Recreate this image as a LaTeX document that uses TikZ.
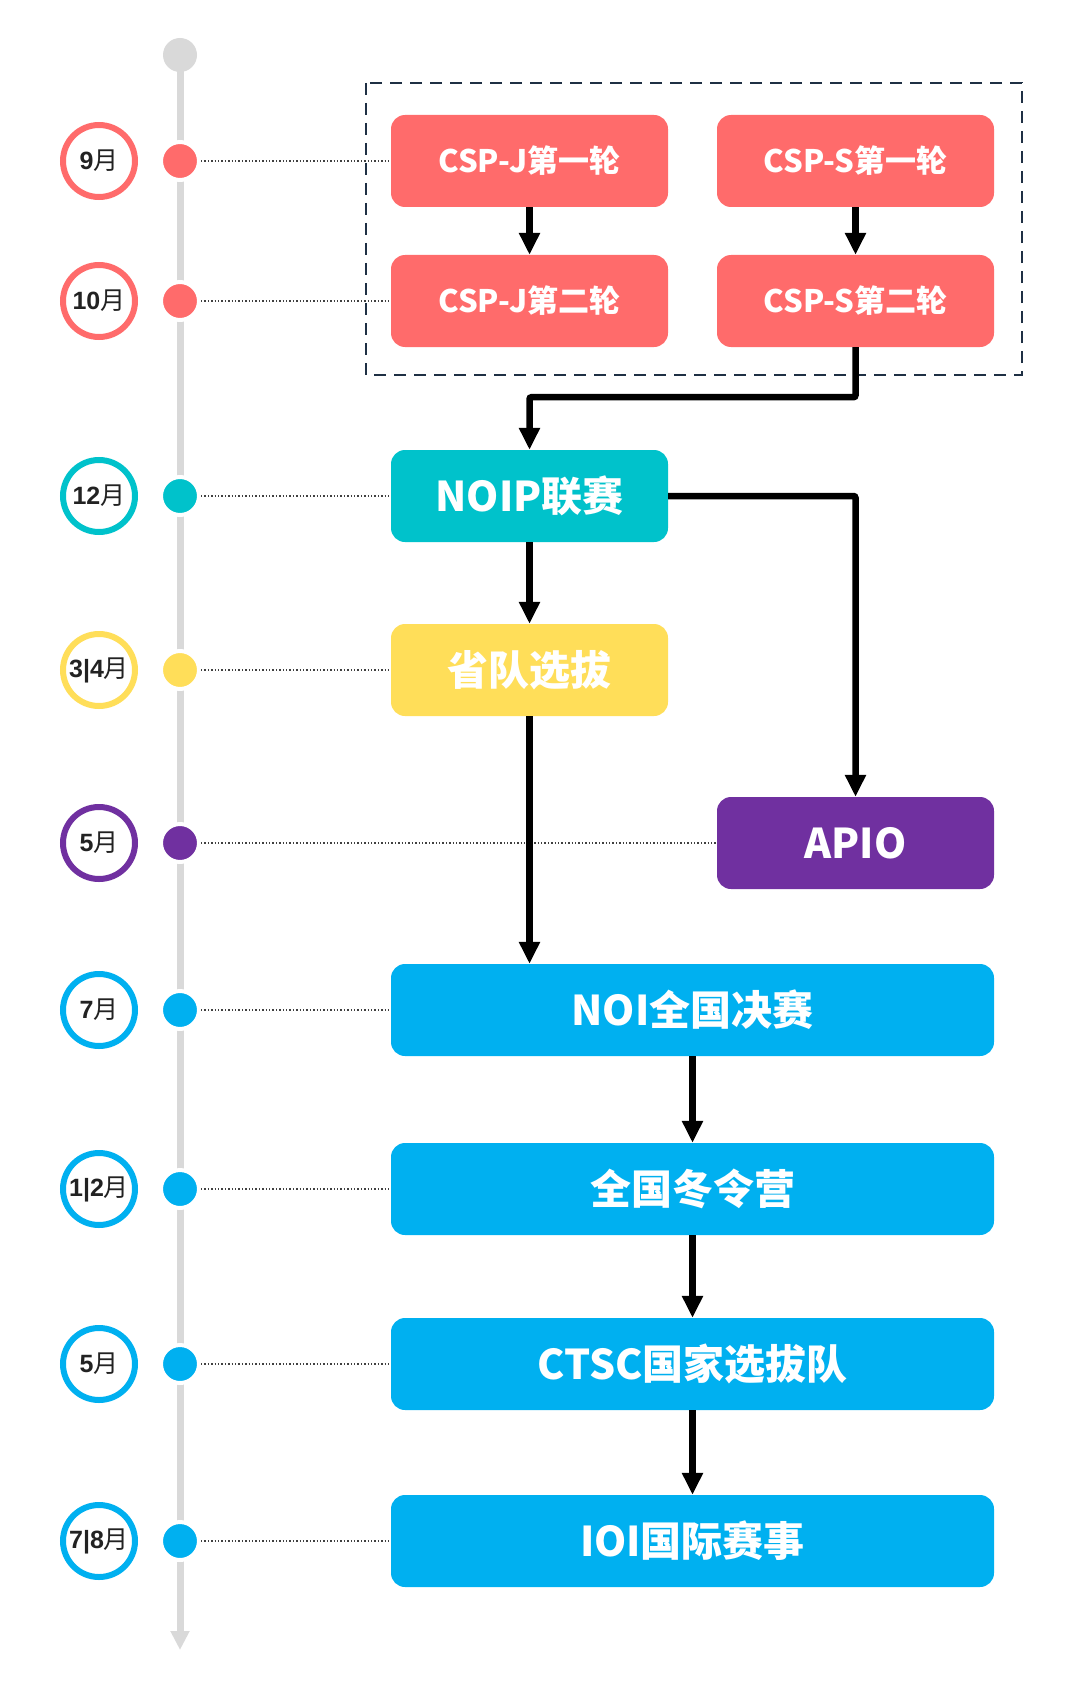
\documentclass[tikz,border=0pt]{standalone}
\usepackage{fontspec}
\setmainfont{Noto Sans CJK SC}
\newfontfamily\cjk{Noto Sans CJK SC}
\newfontfamily\digitfont{Liberation Sans}
\usetikzlibrary{arrows.meta}
\definecolor{cspred}{HTML}{FF6B6B}
\definecolor{noipteal}{HTML}{00C2CB}
\definecolor{provyellow}{HTML}{FFDE59}
\definecolor{apiopurple}{HTML}{7030A0}
\definecolor{noiblue}{HTML}{00B0F0}
\definecolor{linegray}{HTML}{D9D9D9}
\definecolor{framenavy}{HTML}{1F3044}
\definecolor{monthtext}{HTML}{222222}
\newcommand{\monthlabel}[1]{{\fontsize{25}{29}\selectfont\digitfont\bfseries #1\cjk\mdseries 月}}

\begin{document}
\begin{tikzpicture}[x=1pt,y=-1pt,
  stage/.style={rounded corners=14pt,minimum height=92pt,inner sep=0pt,text=white,font=\bfseries\fontsize{41}{48}\selectfont},
  smallstage/.style={stage,minimum width=277pt,font=\bfseries\fontsize{31}{38}\selectfont},
  halfstage/.style={stage,minimum width=277pt},
  widestage/.style={stage,minimum width=603pt},
  ring/.style={circle,draw=#1,line width=6pt,fill=white,minimum size=72pt,inner sep=0pt,text=monthtext},
  tick/.style={circle,fill=#1,draw=white,line width=4pt,minimum size=38pt,inner sep=0pt},
  guide/.style={dotted,line width=1.4pt,draw=black!75},
  flow/.style={line width=6.5pt,-{Triangle[width=20pt,length=22pt]},rounded corners=2pt}]
\useasboundingbox (0,0) rectangle (1080,1688);
\node[circle,fill=linegray,minimum size=34pt,inner sep=0pt] (start) at (180,55) {};
\coordinate (finish) at (180,1650);
\draw[line width=7pt,linegray,-{Triangle[width=18pt,length=19pt]}] (start.center) -- (finish);
\draw[framenavy,line width=2.5pt,dash pattern=on 12pt off 8pt] (366,83) rectangle (1022,375);
% stages
\node[smallstage,fill=cspred] (cspj1) at (529.5,161) {CSP-J第一轮};
\node[smallstage,fill=cspred] (csps1) at (855.5,161) {CSP-S第一轮};
\node[smallstage,fill=cspred] (cspj2) at (529.5,301) {CSP-J第二轮};
\node[smallstage,fill=cspred] (csps2) at (855.5,301) {CSP-S第二轮};
\node[halfstage,fill=noipteal] (noip) at (529.5,496) {NOIP联赛};
\node[halfstage,fill=provyellow] (prov) at (529.5,670) {省队选拔};
\node[halfstage,fill=apiopurple] (apio) at (855.5,843) {APIO};
\node[widestage,fill=noiblue] (noi) at (692.5,1010) {NOI全国决赛};
\node[widestage,fill=noiblue] (winter) at (692.5,1189) {全国冬令营};
\node[widestage,fill=noiblue] (ctsc) at (692.5,1364) {CTSC国家选拔队};
\node[widestage,fill=noiblue] (ioi) at (692.5,1541) {IOI国际赛事};
% months
\node[ring=cspred] (m9) at (99,161) {\monthlabel{9}};
\node[ring=cspred] (m10) at (99,301) {\monthlabel{10}};
\node[ring=noipteal] (m12) at (99,496) {\monthlabel{12}};
\node[ring=provyellow] (m34) at (99,670) {\monthlabel{3|4}};
\node[ring=apiopurple] (m5a) at (99,843) {\monthlabel{5}};
\node[ring=noiblue] (m7) at (99,1010) {\monthlabel{7}};
\node[ring=noiblue] (m12b) at (99,1189) {\monthlabel{1|2}};
\node[ring=noiblue] (m5b) at (99,1364) {\monthlabel{5}};
\node[ring=noiblue] (m78) at (99,1541) {\monthlabel{7|8}};
\node[tick=cspred] (t9) at (180,161) {};
\node[tick=cspred] (t10) at (180,301) {};
\node[tick=noipteal] (t12) at (180,496) {};
\node[tick=provyellow] (t34) at (180,670) {};
\node[tick=apiopurple] (t5a) at (180,843) {};
\node[tick=noiblue] (t7) at (180,1010) {};
\node[tick=noiblue] (t12b) at (180,1189) {};
\node[tick=noiblue] (t5b) at (180,1364) {};
\node[tick=noiblue] (t78) at (180,1541) {};
\draw[guide] (t9) -- (cspj1.west);
\draw[guide] (t10) -- (cspj2.west);
\draw[guide] (t12) -- (noip.west);
\draw[guide] (t34) -- (prov.west);
\draw[guide] (t5a) -- (apio.west);
\draw[guide] (t7) -- (noi.west);
\draw[guide] (t12b) -- (winter.west);
\draw[guide] (t5b) -- (ctsc.west);
\draw[guide] (t78) -- (ioi.west);
% flows
\draw[flow] (cspj1) -- (cspj2);
\draw[flow] (csps1) -- (csps2);
\draw[flow] (csps2.south) -- ++(0,50) -| (noip.north);
\draw[flow] (noip.east) -| (apio.north);
\draw[flow] (noip) -- (prov);
\draw[flow] (prov.south) -- (prov.south |- noi.north);
\draw[flow] (noi) -- (winter);
\draw[flow] (winter) -- (ctsc);
\draw[flow] (ctsc) -- (ioi);
\end{tikzpicture}
\end{document}
